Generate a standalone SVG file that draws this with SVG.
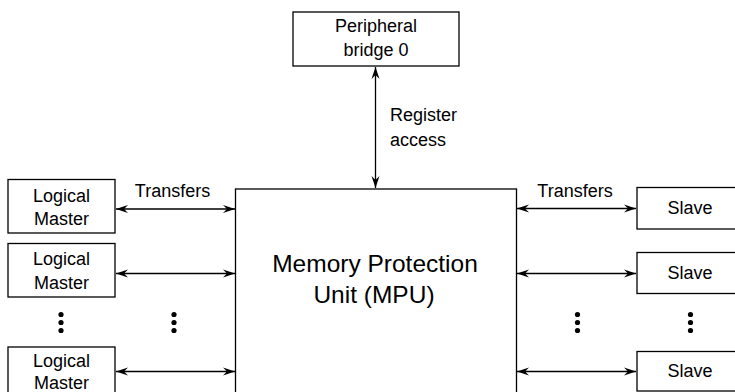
<svg xmlns="http://www.w3.org/2000/svg" width="735" height="392" viewBox="0 0 735 392">
<style>
.box{fill:#fff;stroke:#000;stroke-width:1.3}
.t{font-family:"Liberation Sans",Arial,sans-serif;font-size:18px;fill:#000}
.c{text-anchor:middle}
.big{font-family:"Liberation Sans",Arial,sans-serif;font-size:24.5px;fill:#000;text-anchor:middle}
.ln{stroke:#000;stroke-width:1.3;fill:none;marker-start:url(#ah);marker-end:url(#ah)}
</style>
<defs>
<marker id="ah" markerUnits="userSpaceOnUse" viewBox="-14 -6 16 12" refX="0" refY="0" markerWidth="16" markerHeight="12" orient="auto-start-reverse">
<path d="M0,0 L-12,-4 L-8,0 L-12,4 Z" fill="#000"/>
</marker>
</defs>
<g id="mpu">
<rect class="box" x="235.5" y="189" width="281" height="230"/>
<text class="big" x="375" y="272">Memory Protection</text>
<text class="big" x="374" y="303">Unit (MPU)</text>
</g>
<g id="bridge">
<rect class="box" x="293" y="12" width="166" height="54"/>
<text class="t c" x="376" y="32">Peripheral</text>
<text class="t c" x="376" y="56">bridge 0</text>
</g>
<g id="master1">
<rect class="box" x="8" y="179.5" width="107" height="53.5"/>
<text class="t c" x="61.5" y="201.5">Logical</text>
<text class="t c" x="61.5" y="225">Master</text>
</g>
<g id="master2">
<rect class="box" x="8" y="243.5" width="107" height="53.5"/>
<text class="t c" x="61.5" y="265">Logical</text>
<text class="t c" x="61.5" y="288.5">Master</text>
</g>
<g id="master3">
<rect class="box" x="8" y="347" width="107" height="60"/>
<text class="t c" x="61.5" y="367">Logical</text>
<text class="t c" x="61.5" y="389">Master</text>
</g>
<g id="slave1">
<rect class="box" x="637" y="187.5" width="120" height="41.5"/>
<text class="t c" x="690" y="214">Slave</text>
</g>
<g id="slave2">
<rect class="box" x="637" y="252.5" width="120" height="41"/>
<text class="t c" x="690" y="279">Slave</text>
</g>
<g id="slave3">
<rect class="box" x="637" y="351.5" width="120" height="39.5"/>
<text class="t c" x="690" y="377">Slave</text>
</g>
<g id="connectors">
<line class="ln" x1="375.5" y1="67" x2="375.5" y2="188"/>
<line class="ln" x1="116" y1="209" x2="235" y2="209"/>
<line class="ln" x1="116" y1="273.5" x2="235" y2="273.5"/>
<line class="ln" x1="116" y1="371.5" x2="235" y2="371.5"/>
<line class="ln" x1="517" y1="208.5" x2="636" y2="208.5"/>
<line class="ln" x1="517" y1="273.5" x2="636" y2="273.5"/>
<line class="ln" x1="517" y1="371.5" x2="636" y2="371.5"/>
</g>
<g id="labels">
<text class="t c" x="172.5" y="197">Transfers</text>
<text class="t c" x="575" y="197">Transfers</text>
<text class="t" x="390" y="121">Register</text>
<text class="t" x="390" y="146">access</text>
</g>
<g id="ellipses" fill="#000">
<circle cx="61" cy="314.5" r="2.6"/><circle cx="61" cy="322.5" r="2.6"/><circle cx="61" cy="330.5" r="2.6"/>
<circle cx="174" cy="314.5" r="2.6"/><circle cx="174" cy="322.5" r="2.6"/><circle cx="174" cy="330.5" r="2.6"/>
<circle cx="577.5" cy="314.5" r="2.6"/><circle cx="577.5" cy="322.5" r="2.6"/><circle cx="577.5" cy="330.5" r="2.6"/>
<circle cx="690.5" cy="314.5" r="2.6"/><circle cx="690.5" cy="322.5" r="2.6"/><circle cx="690.5" cy="330.5" r="2.6"/>
</g>
</svg>
